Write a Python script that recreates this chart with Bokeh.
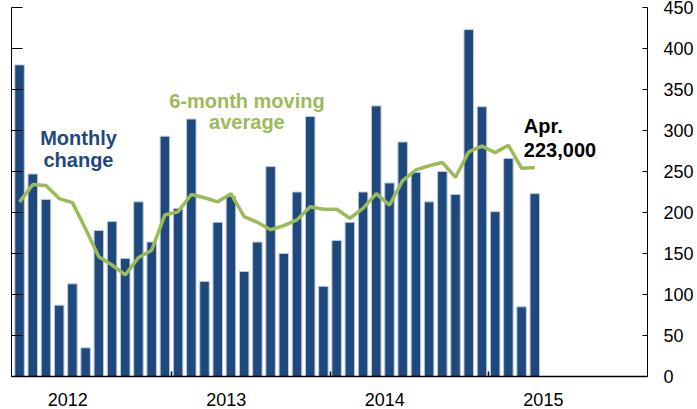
from bokeh.plotting import figure
from bokeh.models import Range1d, LinearAxis, FixedTicker, Label, ColumnDataSource, CustomJSTickFormatter
from bokeh.embed import file_html
from bokeh.resources import INLINE

# Monthly change in nonfarm payrolls (thousands), Jan 2012 - Apr 2015
months = ["2012-01", "2012-02", "2012-03", "2012-04", "2012-05", "2012-06", "2012-07", "2012-08",
          "2012-09", "2012-10", "2012-11", "2012-12", "2013-01", "2013-02", "2013-03", "2013-04",
          "2013-05", "2013-06", "2013-07", "2013-08", "2013-09", "2013-10", "2013-11", "2013-12",
          "2014-01", "2014-02", "2014-03", "2014-04", "2014-05", "2014-06", "2014-07", "2014-08",
          "2014-09", "2014-10", "2014-11", "2014-12", "2015-01", "2015-02", "2015-03", "2015-04"]
monthly_change = [380, 247, 216, 87, 113, 35, 178, 189, 144, 213, 164, 293,
                  205, 314, 116, 188, 220, 128, 164, 256, 150, 225, 317, 110,
                  166, 188, 225, 330, 236, 286, 249, 213, 250, 222, 423, 329,
                  201, 266, 85, 223]
moving_avg = [213, 234, 233, 217, 212, 180, 146, 136, 124, 145, 154, 197,
              201, 222, 218, 213, 223, 195, 188, 179, 184, 191, 207, 204,
              204, 193, 205, 223, 209, 239, 252, 257, 261, 243, 274, 281,
              273, 282, 254, 255]
year_labels = ["2012", "2013", "2014", "2015"]
y_ticks = [0, 50, 100, 150, 200, 250, 300, 350, 400, 450]

# month index -> position (bar centred in its month slot)
x = [i + 0.5 for i in range(len(months))]
src = ColumnDataSource(dict(x=x, change=monthly_change, avg=moving_avg, month=months))

FONT = "Liberation Sans"
BAR = "#1f497d"
GREEN = "#9bbb59"

p = figure(width=697, height=409, output_backend="svg", toolbar_location=None,
           x_range=Range1d(-0.11, 48.03), y_range=Range1d(0, 450),
           y_axis_location="right", min_border_left=11, min_border_top=7,
           min_border_right=50, min_border_bottom=33)
p.outline_line_color = None
p.grid.visible = False
p.background_fill_color = "white"
p.border_fill_color = "white"

p.vbar(x="x", top="change", width=0.72, source=src, fill_color=BAR,
       line_color="#bccbe0", line_width=1)
p.line(x="x", y="avg", source=src, line_color=GREEN, line_width=3.5)

# bottom axis: year labels, boundary ticks as minor ticks
xa = p.xaxis[0]
xa.ticker = FixedTicker(ticks=[4.15, 16.15, 28.15, 40.15], minor_ticks=[12, 24, 36])
xa.formatter = CustomJSTickFormatter(args=dict(labels=year_labels), code="return labels[index];")
xa.major_tick_line_color = None
xa.minor_tick_in = 5
xa.minor_tick_out = 0
xa.minor_tick_line_color = "black"
xa.minor_tick_line_width = 1.5
xa.axis_line_color = "black"
xa.axis_line_width = 1.5
xa.major_label_standoff = 10
xa.major_label_text_font = FONT
xa.major_label_text_font_size = "18px"
xa.major_label_text_color = "black"

# right axis
ya = p.yaxis[0]
ya.ticker = FixedTicker(ticks=y_ticks)
ya.major_tick_in = 5
ya.major_tick_out = 0
ya.minor_tick_line_color = None
ya.axis_line_color = "black"
ya.major_tick_line_color = "black"
ya.major_label_standoff = 16
ya.major_label_text_font = FONT
ya.major_label_text_font_size = "18px"
ya.major_label_text_color = "black"

# left axis: ticks only
la = LinearAxis(ticker=FixedTicker(ticks=y_ticks), major_tick_in=11, major_tick_out=0,
                minor_tick_line_color=None,
                formatter=CustomJSTickFormatter(code="return '';"),
                major_label_standoff=0, axis_line_color="black",
                major_tick_line_color="black")
p.add_layout(la, "left")

def lab(txt, xx, yy, color, align):
    p.add_layout(Label(x=xx, y=yy, text=txt, text_color=color, text_font=FONT,
                       text_font_size="20px", text_font_style="bold",
                       text_align=align, text_baseline="alphabetic"))

lab("Monthly", 4.96, 291, BAR, "center")
lab("change", 4.96, 264, BAR, "center")
lab("6-month moving", 17.71, 336, GREEN, "center")
lab("average", 17.71, 310, GREEN, "center")
lab("Apr.", 38.67, 305, "black", "left")
lab("223,000", 38.67, 276, "black", "left")

open("out.html", "w").write(file_html(p, INLINE))
